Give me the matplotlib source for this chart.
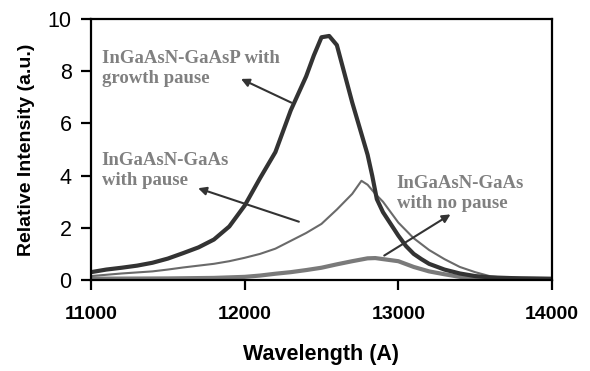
import matplotlib
matplotlib.use("Agg")
import matplotlib.pyplot as plt

plt.rcParams["font.family"] = ["Liberation Sans", "DejaVu Sans"]

# PL spectra
wl_gaasp = [11000, 11100, 11200, 11300, 11400, 11500, 11600, 11700, 11800, 11900, 12000,
            12100, 12200, 12300, 12400, 12450, 12500, 12550, 12600, 12650, 12700, 12750,
            12800, 12830, 12860, 12900, 12950, 13000, 13050, 13100, 13150, 13200, 13300, 13400,
            13500, 13600, 13800, 14000]
int_gaasp = [0.30, 0.40, 0.47, 0.55, 0.66, 0.82, 1.03, 1.25, 1.55, 2.05, 2.85,
             3.9, 4.9, 6.5, 7.8, 8.6, 9.3, 9.35, 9.0, 7.9, 6.8, 5.8,
             4.8, 4.0, 3.1, 2.6, 2.15, 1.7, 1.3, 1.0, 0.8, 0.62, 0.4, 0.25,
             0.15, 0.10, 0.06, 0.04]

wl_pause = [11000, 11200, 11400, 11500, 11600, 11700, 11800, 11900, 12000, 12100, 12200,
            12300, 12400, 12500, 12600, 12700, 12760, 12800, 12850, 12900, 12950, 13000,
            13100, 13200, 13300, 13400, 13500, 13600, 13700, 14000]
int_pause = [0.15, 0.25, 0.33, 0.40, 0.48, 0.55, 0.62, 0.72, 0.85, 1.0, 1.2,
             1.5, 1.8, 2.15, 2.7, 3.3, 3.8, 3.65, 3.3, 3.0, 2.6, 2.2,
             1.6, 1.15, 0.8, 0.5, 0.3, 0.14, 0.08, 0.05]

wl_nopause = [11000, 11500, 11800, 12000, 12100, 12200, 12300, 12400, 12500, 12600, 12700,
              12800, 12850, 12900, 13000, 13100, 13200, 13300, 13400, 13500, 14000]
int_nopause = [0.05, 0.06, 0.08, 0.12, 0.17, 0.24, 0.30, 0.38, 0.47, 0.60, 0.72,
               0.83, 0.84, 0.80, 0.72, 0.50, 0.33, 0.22, 0.12, 0.08, 0.05]

fig = plt.figure(figsize=(5.9, 3.71), dpi=100)
ax = fig.add_axes([0.1542, 0.2453, 0.7814, 0.7035])

ax.plot(wl_nopause, int_nopause, color="#7a7a7a", lw=3)
ax.plot(wl_pause, int_pause, color="#6a6a6a", lw=1.5)
ax.plot(wl_gaasp, int_gaasp, color="#333333", lw=3)

ax.set_xlim(11000, 14000)
ax.set_ylim(0, 10)
ax.set_xticks([11000, 12000, 13000, 14000])
ax.set_yticks([0, 2, 4, 6, 8, 10])
for s in ax.spines.values():
    s.set_linewidth(1.6)
ax.tick_params(direction="out", length=7, width=1.6)
ax.tick_params(axis="x", pad=12, labelsize=14)
ax.tick_params(axis="y", pad=7, labelsize=15.5)
for t in ax.get_xticklabels():
    t.set_fontweight("bold")
ax.set_xlabel("Wavelength (A)", fontsize=15.5, fontweight="bold", labelpad=15)
ax.set_ylabel("Relative Intensity (a.u.)", fontsize=14, fontweight="bold", labelpad=9)

txt = dict(fontsize=13.5, fontweight="bold", color="#808080", family="Liberation Serif",
           va="center", ha="left", linespacing=1.25)
arr = dict(arrowstyle="-|>", color="#333333", lw=1.5, mutation_scale=12)

ax.annotate("", xy=(11960, 7.75), xytext=(12320, 6.75), arrowprops=arr)
ax.annotate("", xy=(11680, 3.55), xytext=(12370, 2.2), arrowprops=arr)
ax.annotate("", xy=(13355, 2.57), xytext=(12893, 0.88), arrowprops=arr)
ax.text(11070, 8.1, "InGaAsN-GaAsP with\ngrowth pause", **txt)
ax.text(11070, 4.2, "InGaAsN-GaAs\nwith pause", **txt)
ax.text(12990, 3.3, "InGaAsN-GaAs\nwith no pause", **txt)

fig.savefig("out.png", dpi=100)
